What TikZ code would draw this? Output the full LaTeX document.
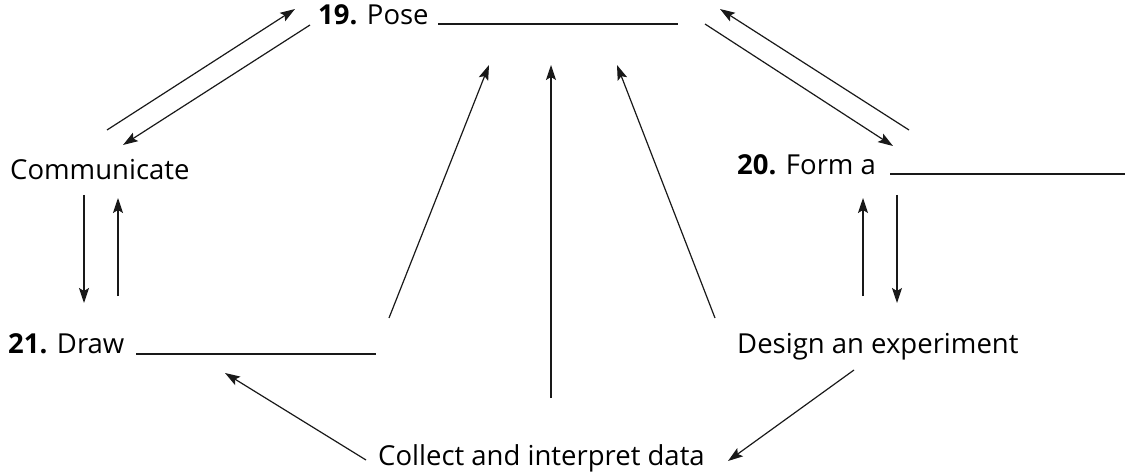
\documentclass[tikz,border=0pt]{standalone}
\usepackage{fontspec}
\setmainfont{Open Sans}
\usetikzlibrary{arrows.meta}
\begin{document}
\begin{tikzpicture}[x=1pt,y=-1pt,
  lbl/.style={anchor=base west,inner sep=0pt,font=\fontsize{27.5}{32}\selectfont},
  blank/.style={line width=2.4pt,color=black!90},
  flow/.style={line width=1.2pt,color=black!90,-{Stealth[length=15pt,width=10pt,inset=3pt]}},
  plain/.style={line width=1.2pt,color=black!90}]
\useasboundingbox (0,0) rectangle (1125,473);

% labels
\node[lbl] (pose) at (318,25) {\textbf{19.} Pose};
\node[lbl] (comm) at (10,180) {Communicate};
\node[lbl] (form) at (737,175) {\textbf{20.} Form a};
\node[lbl] (draw) at (8,353) {\textbf{21.} Draw};
\node[lbl] (design) at (737,353) {Design an experiment};
\node[lbl] (collect) at (378,465) {Collect and interpret data};

% answer blanks
\coordinate (poseL) at (438,24); \coordinate (poseR) at (678,24);
\coordinate (formL) at (890,174); \coordinate (formR) at (1125,174);
\coordinate (drawL) at (136,354); \coordinate (drawR) at (376,354);
\draw[blank] (poseL) -- (poseR);
\draw[blank] (formL) -- (formR);
\draw[blank] (drawL) -- (drawR);

% connector end points
\coordinate (c1a) at (107,130); \coordinate (c1b) at (295,9);
\coordinate (c2a) at (310,25);  \coordinate (c2b) at (123,145);
\coordinate (c3a) at (705,24);  \coordinate (c3b) at (893,146);
\coordinate (c4a) at (909,130); \coordinate (c4b) at (720,9);
\coordinate (c5a) at (84,195);  \coordinate (c5b) at (84,303);
\coordinate (c6a) at (118,296); \coordinate (c6b) at (118,198);
\coordinate (c7a) at (863,296); \coordinate (c7b) at (863,198);
\coordinate (c8a) at (897,195); \coordinate (c8b) at (897,303);
\coordinate (c9a) at (389,318); \coordinate (c9b) at (489,65);
\coordinate (c10a) at (551,398); \coordinate (c10b) at (551,65);
\coordinate (c11a) at (715,318); \coordinate (c11b) at (617,65);
\coordinate (c12a) at (366,460); \coordinate (c12b) at (225,373);
\coordinate (c13a) at (854,370); \coordinate (c13b) at (728,461);

% cycle connectors
\draw[flow] (c1a) -- (c1b);
\draw[flow] (c2a) -- (c2b);
\draw[flow] (c3a) -- (c3b);
\draw[flow] (c4a) -- (c4b);
\draw[flow] (c5a) -- (c5b);
\draw[flow] (c6a) -- (c6b);
\draw[flow] (c7a) -- (c7b);
\draw[flow] (c8a) -- (c8b);
\draw[flow] (c9a) -- (c9b);
\draw[flow] (c10a) -- (c10b);
\draw[flow] (c11a) -- (c11b);
\draw[flow] (c12a) -- (c12b);
\draw[flow] (c13a) -- (c13b);
\end{tikzpicture}
\end{document}
